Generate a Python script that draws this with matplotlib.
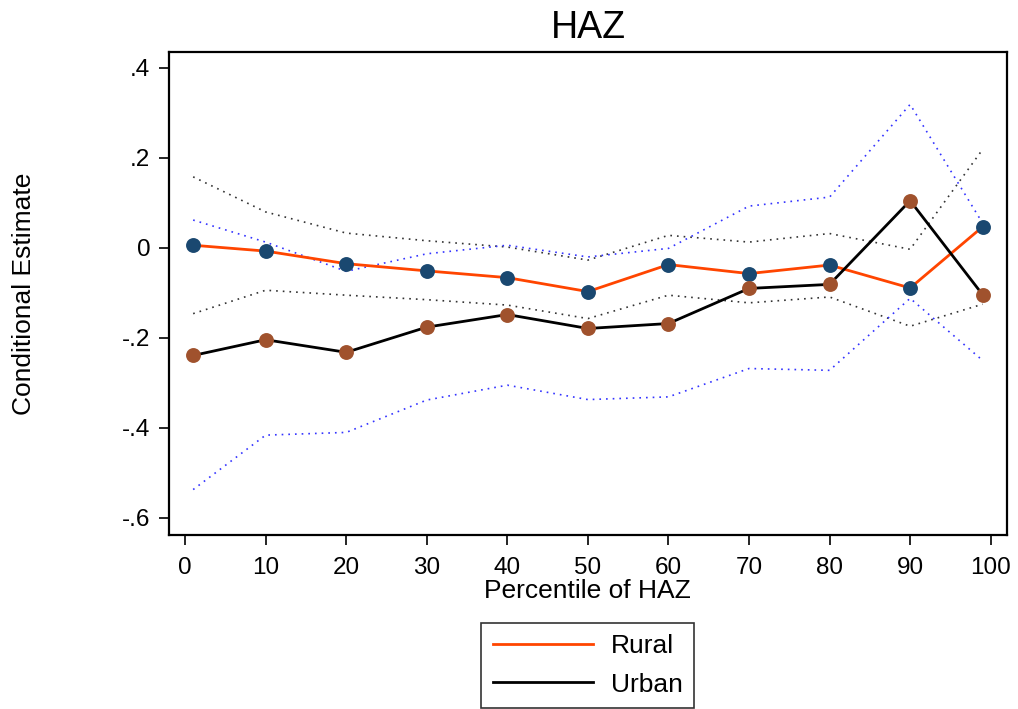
import numpy as np
import matplotlib
matplotlib.use("Agg")
import matplotlib.pyplot as plt

plt.rcParams['font.family'] = ['Liberation Sans', 'DejaVu Sans']

# percentiles of HAZ at which the quantile regressions were run
pct = [1, 10, 20, 30, 40, 50, 60, 70, 80, 90, 99]

# rural conditional estimate and its confidence band
rural = [0.006, -0.007, -0.035, -0.051, -0.066, -0.097, -0.037, -0.057, -0.038, -0.089, 0.047]
rural_hi = [0.158, 0.080, 0.033, 0.016, 0.002, -0.027, 0.028, 0.013, 0.032, -0.003, 0.219]
rural_lo = [-0.146, -0.094, -0.105, -0.115, -0.127, -0.157, -0.105, -0.122, -0.109, -0.174, -0.125]

# urban conditional estimate and its confidence band
urban = [-0.239, -0.204, -0.232, -0.176, -0.148, -0.179, -0.168, -0.090, -0.081, 0.105, -0.104]
urban_hi = [0.062, 0.013, -0.052, -0.013, 0.006, -0.020, -0.001, 0.093, 0.113, 0.319, 0.055]
urban_lo = [-0.537, -0.416, -0.410, -0.338, -0.305, -0.337, -0.331, -0.268, -0.272, -0.112, -0.250]

xticks = [0, 10, 20, 30, 40, 50, 60, 70, 80, 90, 100]
yticks = [-0.6, -0.4, -0.2, 0, 0.2, 0.4]
ytick_labels = ['-.6', '-.4', '-.2', '0', '.2', '.4']

fig = plt.figure(figsize=(10.18, 7.09), dpi=100)
ax = fig.add_axes([0.166, 0.2454, 0.823, 0.6816])

ax.plot(pct, rural_hi, color='#333333', lw=1.2, ls=(0, (1, 3)))
ax.plot(pct, rural_lo, color='#333333', lw=1.2, ls=(0, (1, 3)))
ax.plot(pct, urban_hi, color='#3333ff', lw=1.2, ls=(0, (1, 3)))
ax.plot(pct, urban_lo, color='#3333ff', lw=1.2, ls=(0, (1, 3)))

ax.plot(pct, rural, color='#ff4500', lw=2, label='Rural', zorder=3)
ax.plot(pct, urban, color='black', lw=2, label='Urban', zorder=3)
ax.scatter(pct, rural, s=115, color='#1a4870', zorder=4, linewidths=0)
ax.scatter(pct, urban, s=115, color='#a0522d', zorder=4, linewidths=0)

ax.set_xlim(-2, 102)
ax.set_ylim(-0.638, 0.436)
ax.set_xticks(xticks)
ax.set_yticks(yticks)
ax.set_yticklabels(ytick_labels)
ax.tick_params(labelsize=17.5, length=7, width=1.2, direction='out')
ax.tick_params(axis='x', pad=9)
ax.tick_params(axis='y', pad=6.5)
for s in ax.spines.values():
    s.set_linewidth(1.6)

ax.set_title('HAZ', fontsize=27, pad=10)
ax.set_xlabel('Percentile of HAZ', fontsize=19, labelpad=0)
ax.set_ylabel('Conditional Estimate', fontsize=19, labelpad=62)

leg = ax.legend(loc='upper center', bbox_to_anchor=(0.5, -0.155), fontsize=19,
                frameon=True, fancybox=False, edgecolor='black', handlelength=3.8,
                handletextpad=0.7, borderpad=0.42, labelspacing=0.55)
leg.get_frame().set_linewidth(1.2)

fig.savefig('out.png', dpi=100)
